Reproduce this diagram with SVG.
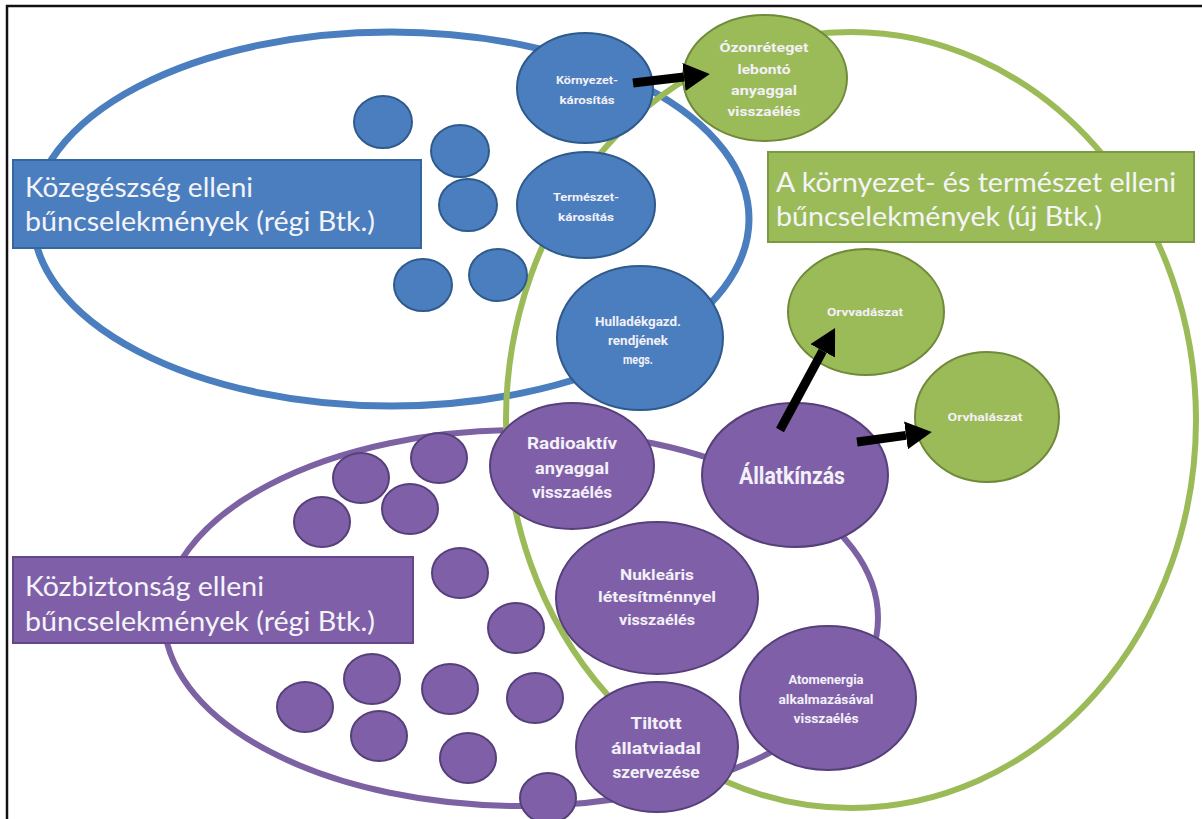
<svg xmlns="http://www.w3.org/2000/svg" width="1202" height="819" viewBox="0 0 1202 819">
<style>
.bg{fill:#ffffff}
.frame{stroke:#111;stroke-width:2.5;fill:none}
.ell{fill:none}
.eb{stroke:#4a7ebf;stroke-width:7}
.eg{stroke:#9bbb59;stroke-width:6}
.ep{stroke:#7d62a3;stroke-width:6}
.nb{fill:#4a7ebf;stroke:#2f5a8c;stroke-width:2}
.ng{fill:#9bbb59;stroke:#6f8a38;stroke-width:2}
.np{fill:#7f60a8;stroke:#56407a;stroke-width:2}
.boxb{fill:#4a7ebf;stroke:#35679f;stroke-width:2}
.boxg{fill:#9bbb59;stroke:#7a9a42;stroke-width:2}
.boxp{fill:#7f60a8;stroke:#62488a;stroke-width:2}
.lbl{font-family:Lato,"Liberation Sans",sans-serif;font-size:27px;fill:#f4f4f8}
.t{font-family:"Liberation Sans Narrow",Roboto,"Liberation Sans",sans-serif;font-weight:bold;fill:#f3f0f8;text-anchor:middle}
.s11{font-size:11px}
.s12{font-size:12px}
.s15{font-size:15px}
.s17{font-size:17px}
.s22{font-size:23px}
.arr{stroke:#000;stroke-width:9;fill:none;marker-end:url(#ah)}
</style>
<defs>
<marker id="ah" viewBox="0 0 26 28" refX="0" refY="14" markerWidth="26" markerHeight="28" markerUnits="userSpaceOnUse" orient="auto">
<path d="M0,0 L26,14 L0,28 z" fill="#000"/>
</marker>
</defs>
<rect class="bg" x="0" y="0" width="1202" height="819"/>
<path class="frame" d="M7,819 L7,6 L1202,6"/>

<g id="sets">
<ellipse id="set-blue" class="ell eb" cx="391" cy="219" rx="358" ry="187"/>
<ellipse id="set-purple" class="ell ep" cx="521" cy="618" rx="357" ry="188"/>
<ellipse id="set-green" class="ell eg" cx="851" cy="420" rx="345" ry="388"/>
</g>

<g id="label-blue">
<rect class="boxb" x="13" y="160" width="408" height="88"/>
<text class="lbl" x="25" y="197" textLength="228" lengthAdjust="spacingAndGlyphs">Közegészség elleni</text>
<text class="lbl" x="25" y="231" textLength="350" lengthAdjust="spacingAndGlyphs">bűncselekmények (régi Btk.)</text>
</g>
<g id="label-green">
<rect class="boxg" x="768" y="152" width="426" height="90"/>
<text class="lbl" x="776" y="192" textLength="400" lengthAdjust="spacingAndGlyphs">A környezet- és természet elleni</text>
<text class="lbl" x="776" y="226" textLength="326" lengthAdjust="spacingAndGlyphs">bűncselekmények (új Btk.)</text>
</g>
<g id="label-purple">
<rect class="boxp" x="13" y="557" width="400" height="86"/>
<text class="lbl" x="25" y="596" textLength="239" lengthAdjust="spacingAndGlyphs">Közbiztonság elleni</text>
<text class="lbl" x="25" y="631" textLength="350" lengthAdjust="spacingAndGlyphs">bűncselekmények (régi Btk.)</text>
</g>

<g id="blue-small">
<ellipse class="nb" cx="383" cy="122" rx="29" ry="26"/>
<ellipse class="nb" cx="460" cy="151" rx="29" ry="26"/>
<ellipse class="nb" cx="468" cy="205" rx="29" ry="26"/>
<ellipse class="nb" cx="423" cy="285" rx="29" ry="26"/>
<ellipse class="nb" cx="498" cy="275" rx="29" ry="26"/>
</g>

<g id="purple-small">
<ellipse class="np" cx="439" cy="458" rx="28" ry="25"/>
<ellipse class="np" cx="361" cy="478" rx="28" ry="25"/>
<ellipse class="np" cx="410" cy="509" rx="28" ry="25"/>
<ellipse class="np" cx="322" cy="522" rx="28" ry="25"/>
<ellipse class="np" cx="460" cy="573" rx="28" ry="25"/>
<ellipse class="np" cx="516" cy="628" rx="28" ry="25"/>
<ellipse class="np" cx="372" cy="679" rx="28" ry="25"/>
<ellipse class="np" cx="450" cy="689" rx="28" ry="25"/>
<ellipse class="np" cx="535" cy="698" rx="28" ry="25"/>
<ellipse class="np" cx="305" cy="707" rx="28" ry="25"/>
<ellipse class="np" cx="379" cy="736" rx="28" ry="25"/>
<ellipse class="np" cx="468" cy="758" rx="28" ry="25"/>
<ellipse class="np" cx="548" cy="798" rx="28" ry="25"/>
</g>

<g id="n-kornyezet">
<ellipse class="nb" cx="585" cy="88" rx="68" ry="55"/>
<text class="t s11" x="587" y="84" textLength="62" lengthAdjust="spacingAndGlyphs">Környezet-</text>
<text class="t s11" x="587" y="104" textLength="55" lengthAdjust="spacingAndGlyphs">károsítás</text>
</g>
<g id="n-termeszet">
<ellipse class="nb" cx="586" cy="205" rx="69" ry="53"/>
<text class="t s11" x="586" y="201" textLength="66" lengthAdjust="spacingAndGlyphs">Természet-</text>
<text class="t s11" x="586" y="221" textLength="56" lengthAdjust="spacingAndGlyphs">károsítás</text>
</g>
<g id="n-hulladek">
<ellipse class="nb" cx="640" cy="338" rx="83" ry="72"/>
<text class="t s12" x="638" y="326" textLength="86" lengthAdjust="spacingAndGlyphs">Hulladékgazd.</text>
<text class="t s12" x="638" y="345" textLength="60" lengthAdjust="spacingAndGlyphs">rendjének</text>
<text class="t s12" x="638" y="364" textLength="30" lengthAdjust="spacingAndGlyphs">megs.</text>
</g>

<g id="n-ozon">
<ellipse class="ng" cx="765" cy="78" rx="82" ry="63"/>
<text class="t s12" x="764" y="52" textLength="89" lengthAdjust="spacingAndGlyphs" font-weight="normal">Ózonréteget</text>
<text class="t s12" x="764" y="74" textLength="53" lengthAdjust="spacingAndGlyphs">lebontó</text>
<text class="t s12" x="764" y="95" textLength="66" lengthAdjust="spacingAndGlyphs">anyaggal</text>
<text class="t s12" x="764" y="116" textLength="73" lengthAdjust="spacingAndGlyphs">visszaélés</text>
</g>
<g id="n-orvvadaszat">
<ellipse class="ng" cx="866" cy="312" rx="78" ry="63"/>
<text class="t s11" x="865" y="316" textLength="76" lengthAdjust="spacingAndGlyphs">Orvvadászat</text>
</g>
<g id="n-orvhalaszat">
<ellipse class="ng" cx="987" cy="417" rx="72" ry="65"/>
<text class="t s11" x="985" y="421" textLength="75" lengthAdjust="spacingAndGlyphs">Orvhalászat</text>
</g>

<g id="n-radioaktiv">
<ellipse class="np" cx="572" cy="466" rx="82" ry="63"/>
<text class="t s17" x="572" y="449" textLength="90" lengthAdjust="spacingAndGlyphs">Radioaktív</text>
<text class="t s17" x="572" y="474" textLength="74" lengthAdjust="spacingAndGlyphs">anyaggal</text>
<text class="t s17" x="572" y="498" textLength="80" lengthAdjust="spacingAndGlyphs">visszaélés</text>
</g>
<g id="n-allatkinzas">
<ellipse class="np" cx="795" cy="475" rx="93" ry="72"/>
<text class="t s22" x="792" y="484" textLength="106" lengthAdjust="spacingAndGlyphs">Állatkínzás</text>
</g>
<g id="n-nuklearis">
<ellipse class="np" cx="657" cy="598" rx="101" ry="76"/>
<text class="t s15" x="657" y="580" textLength="74" lengthAdjust="spacingAndGlyphs">Nukleáris</text>
<text class="t s15" x="657" y="602" textLength="118" lengthAdjust="spacingAndGlyphs">létesítménnyel</text>
<text class="t s15" x="657" y="625" textLength="76" lengthAdjust="spacingAndGlyphs">visszaélés</text>
</g>
<g id="n-atomenergia">
<ellipse class="np" cx="828" cy="698" rx="88" ry="72"/>
<text class="t s12" x="826" y="684" textLength="75" lengthAdjust="spacingAndGlyphs">Atomenergia</text>
<text class="t s12" x="826" y="704" textLength="95" lengthAdjust="spacingAndGlyphs">alkalmazásával</text>
<text class="t s12" x="826" y="723" textLength="65" lengthAdjust="spacingAndGlyphs">visszaélés</text>
</g>
<g id="n-tiltott">
<ellipse class="np" cx="657" cy="747" rx="81" ry="65"/>
<text class="t s17" x="656" y="729" textLength="51" lengthAdjust="spacingAndGlyphs">Tiltott</text>
<text class="t s17" x="656" y="754" textLength="90" lengthAdjust="spacingAndGlyphs">állatviadal</text>
<text class="t s17" x="656" y="778" textLength="87" lengthAdjust="spacingAndGlyphs">szervezése</text>
</g>

<g id="connectors">
<line class="arr" x1="633" y1="83" x2="684" y2="77"/>
<line class="arr" x1="780" y1="430" x2="822.7" y2="350.9"/>
<line class="arr" x1="857" y1="442" x2="906" y2="435.4"/>
</g>
</svg>
